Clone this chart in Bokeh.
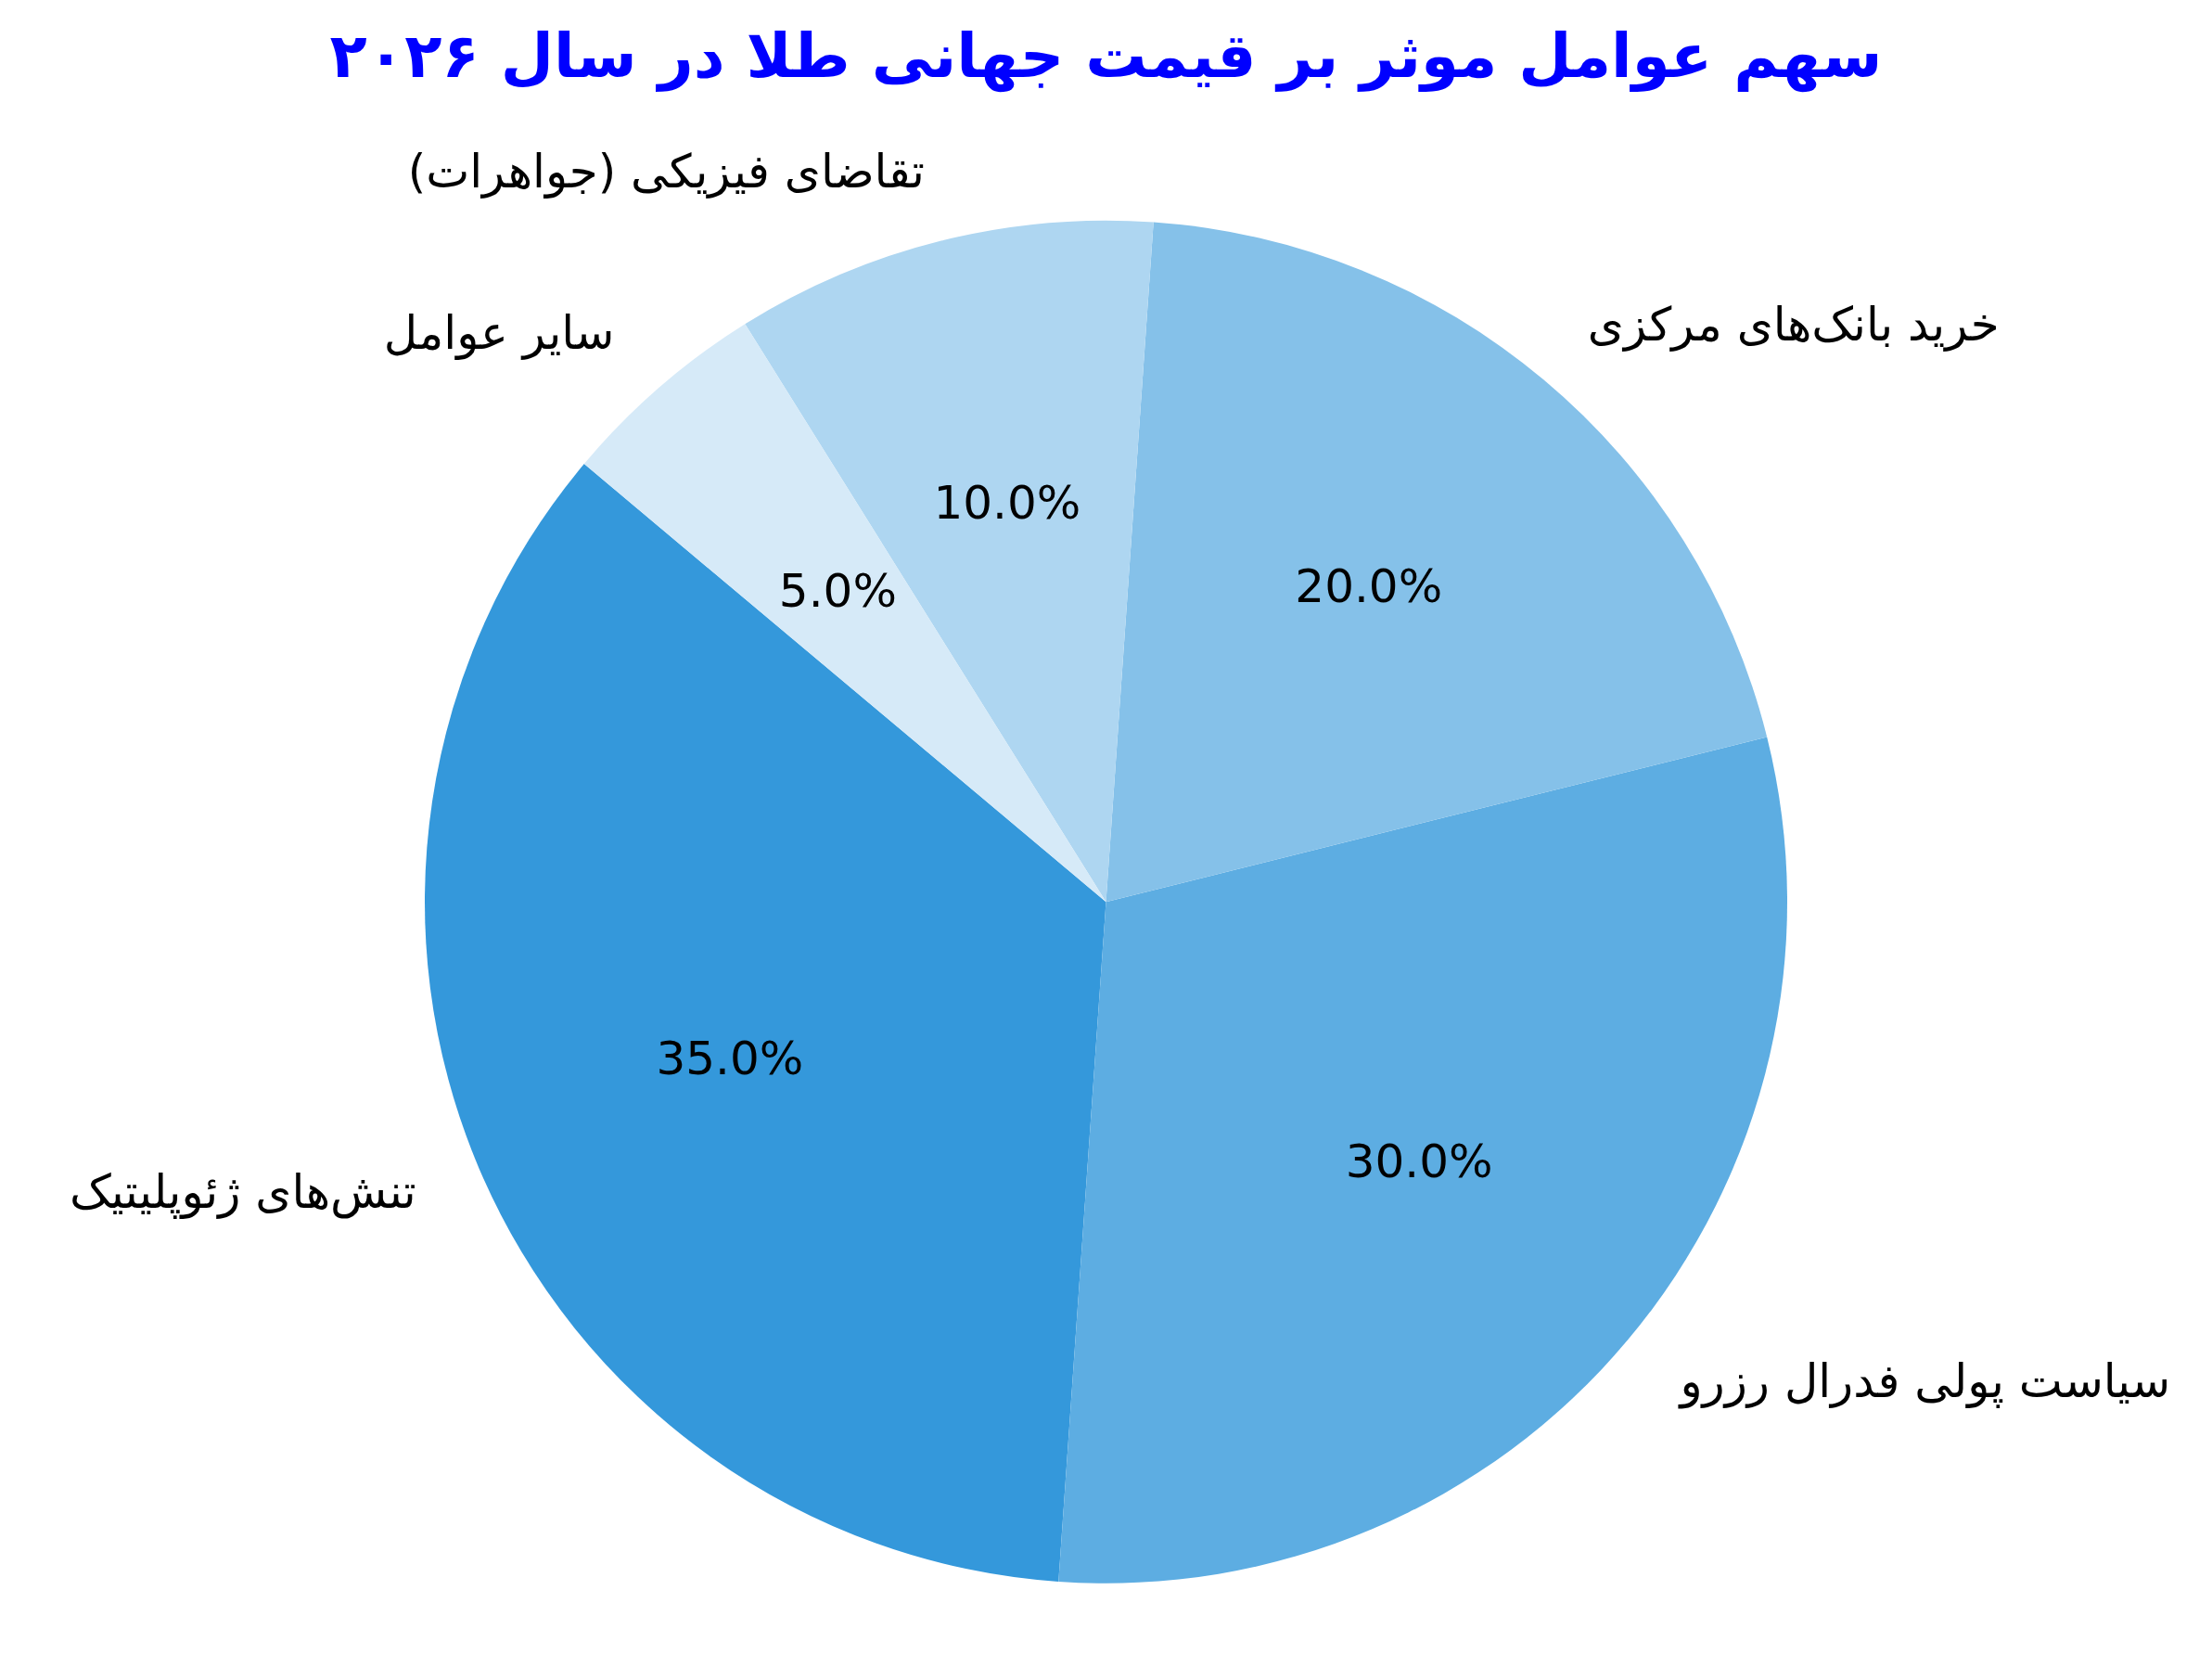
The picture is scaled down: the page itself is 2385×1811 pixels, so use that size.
import numpy as np
from bokeh.plotting import figure
from bokeh.models import Range1d, Label
from bokeh.core.properties import value
from bokeh.embed import file_html
from bokeh.resources import INLINE

# ---- data ----
title_text = "سهم عوامل موثر بر قیمت جهانی طلا در سال ۲۰۲۶"
categories = [
    "تنش‌های ژئوپلیتیک",
    "سیاست پولی فدرال رزرو",
    "خرید بانک‌های مرکزی",
    "تقاضای فیزیکی (جواهرات)",
    "سایر عوامل",
]
shares = [35, 30, 20, 10, 5]
colors = ["#3498db", "#5dade2", "#85c1e9", "#aed6f1", "#d6eaf8"]
start_angle_deg = 140

# ---- layout ----
W, H = 2369, 1795
cx, cy = 1192, H - 971.7
R = 734.5
FONT = "DejaVu Sans"
TEXT_DY = 3  # small upward nudge to match matplotlib's vertical centring

p = figure(width=W, height=H, output_backend="svg", toolbar_location=None,
           x_range=Range1d(0, W), y_range=Range1d(0, H), min_border=0)
p.axis.visible = False
p.grid.visible = False
p.outline_line_color = None
p.background_fill_color = "white"

vals = np.array(shares, dtype=float)
frac = vals / vals.sum()
ends = np.deg2rad(start_angle_deg) + 2 * np.pi * np.cumsum(frac)
starts = ends - 2 * np.pi * frac
mids = (starts + ends) / 2

p.wedge(x=[cx] * len(vals), y=[cy] * len(vals), radius=R,
        start_angle=list(starts), end_angle=list(ends),
        fill_color=colors, line_color=None)

# percent labels
pct_text = [f"{100 * f:.1f}%" for f in frac]
p.text(x=list(cx + 0.6 * R * np.cos(mids)),
       y=list(cy + 0.6 * R * np.sin(mids) + TEXT_DY),
       text=pct_text, text_font=value(FONT), text_font_size="50px",
       text_align="center", text_baseline="middle", text_color="black")

# category labels
lx = cx + 1.1 * R * np.cos(mids)
ly = cy + 1.1 * R * np.sin(mids) + TEXT_DY
aligns = ["left" if c > 0 else "right" for c in np.cos(mids)]
for x, y, t, a in zip(lx, ly, categories, aligns):
    p.add_layout(Label(x=x, y=y, text=t, text_font=FONT, text_font_size="50px",
                       text_align=a, text_baseline="middle", text_color="black"))

p.add_layout(Label(x=cx, y=H - 60, text=title_text, text_font=FONT,
                   text_font_size="66px", text_font_style="bold",
                   text_align="center", text_baseline="middle", text_color="blue"))

open("out.html", "w").write(file_html(p, INLINE))
